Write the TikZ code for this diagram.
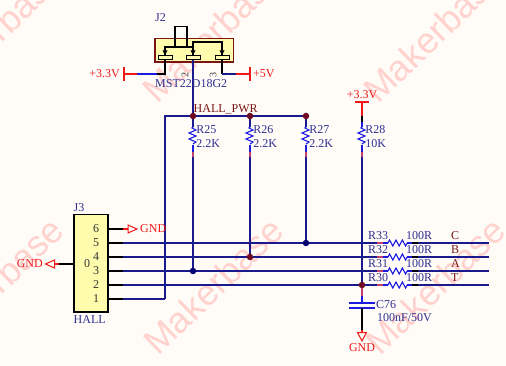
\documentclass[tikz,border=0pt]{standalone}
\usepackage{fontspec}
\setmainfont{Liberation Serif}
\newfontfamily\wmfont{Liberation Sans}
\definecolor{paper}{HTML}{FFFCF8}
\definecolor{wire}{HTML}{1A1A8C}
\definecolor{refcol}{HTML}{2F2F8F}
\definecolor{netcol}{HTML}{7A1515}
\definecolor{pwr}{HTML}{F01818}
\definecolor{dotred}{HTML}{6E0A22}
\definecolor{dotblue}{HTML}{000070}
\definecolor{partfill}{HTML}{FFFCAE}
\definecolor{pinblue}{HTML}{1A1AE0}
\definecolor{pinpink}{HTML}{C04070}
\definecolor{wmark}{HTML}{FFD2CE}
\tikzset{
 txt/.style={font=\fontsize{12}{12}\selectfont,inner sep=0pt,anchor=west},
 reflabel/.style={txt,text=refcol},
 netlabel/.style={txt,text=netcol},
 pwrlabel/.style={txt,text=pwr},
 pinnum/.style={txt,anchor=center,text=black!80},
 wmtext/.style={font=\wmfont\fontsize{36}{36}\selectfont,text=wmark,inner sep=0pt,anchor=base west,rotate=44},
 net/.style={draw=wire,line width=1.4pt},
 black wire/.style={draw=black,line width=1.4pt},
 pwr wire/.style={draw=pwr,line width=1.4pt},
 pwr thin/.style={draw=pwr,line width=1pt},
 blue stub/.style={draw=pinblue,line width=1.4pt},
 zig/.style={draw=pinblue,line width=1.1pt},
 pink stub/.style={draw=pinpink,line width=1.4pt},
 jdot/.style={circle,inner sep=0pt,minimum size=6.5pt},
 dred/.style={jdot,fill=dotred},
 dblue/.style={jdot,fill=dotblue},
 partbox/.style={draw=netcol,fill=partfill,line width=1.1pt},
 pinrect/.style={draw=black,fill=partfill,line width=1pt},
}
\newcommand{\vzig}[2]{\draw[zig,line join=miter] (#1,#2) -- ++(-1,1) -- ++(4,2) -- ++(-7,3) -- ++(7,3) -- ++(-7,3) -- ++(7,3) -- ++(-3,2);}
\newcommand{\hzig}[2]{\draw[zig] (#1,#2) -- ++(1.6,-3) -- ++(3.2,6) -- ++(3.2,-6) -- ++(3.2,6) -- ++(3.2,-6) -- ++(3.2,6) -- ++(1.6,-3);}
\begin{document}
\begin{tikzpicture}[x=1pt,y=-1pt]
\useasboundingbox (0,0) rectangle (506,366);
\fill[paper] (0,0) rectangle (506,366);
\begin{scope}
\clip (0,0) rectangle (506,366);
\node[wmtext] (wm1) at (-62,105) {Makerbase};
\node[wmtext] (wm2) at (157,105) {Makerbase};
\node[wmtext] (wm3) at (378,105) {Makerbase};
\node[wmtext] (wm4) at (-62,357) {Makerbase};
\node[wmtext] (wm5) at (158,357) {Makerbase};
\node[wmtext] (wm6) at (380,357) {Makerbase};
\end{scope}
% coordinates
\foreach \n/\y in {1/299,2/285,3/271,4/257,5/243,6/229}{
  \coordinate (p\n) at (108,\y);
  \coordinate (q\n) at (123,\y);
}
\coordinate (hl) at (165,116);
\coordinate (hl1) at (165,299);
\coordinate (j1) at (193,116);
\coordinate (j2) at (250,116);
\coordinate (j3) at (306,116);
\coordinate (j4) at (193,271);
\coordinate (j5) at (250,257);
\coordinate (j6) at (306,243);
\coordinate (j7) at (362,285);
% J2
\filldraw[partbox] (155,38.5) rectangle (233.5,62);
\coordinate (pa) at (165,55);
\coordinate (pb) at (193,55);
\coordinate (pc) at (222,55);
\draw[black wire] (pa) -- (165,47) -- (193,47) -- (pb);
\draw[black wire] (175,47) -- (175,26.5) -- (187,26.5) -- (187,47);
\draw[black wire] (193,47) -- (193,42) -- (222,42) -- (pc);
\foreach \x in {165,193,222}{
  \fill[black] (\x,55) -- (\x-2.5,50.5) -- (\x+2.5,50.5) -- cycle;
  \filldraw[pinrect] (\x-7,55.5) rectangle (\x+7,60);
}
% J2 leads
\draw[black wire] (165,60) -- (165,74) -- (157,74);
\draw[net,draw=pinblue] (157,74) -- (137,74);
\draw[pwr wire] (137,74) -- (124,74);
\draw[pwr wire] (124,67) -- (124,81);
\draw[net] (193,60) -- (j1);
\draw[black wire] (222,60) -- (222,74);
\draw[net] (222,74) -- (236,74);
\draw[pwr wire] (236,74) -- (250,74);
\draw[pwr wire] (250,67) -- (250,81);
\node[pwrlabel,anchor=east] (v33a) at (120,74) {+3.3V};
\node[pwrlabel] (v5) at (253,74) {+5V};
\node[reflabel,anchor=center] (j2ref) at (160.5,18) {J2};
\node[reflabel] (j2val) at (155,84) {MST22D18G2};
\node[pinnum,rotate=90,font=\fontsize{10}{10}\selectfont] (n2) at (185,75) {2};
\node[pinnum,rotate=90,font=\fontsize{10}{10}\selectfont] (n3) at (213,75) {3};
% HALL_PWR
\draw[net] (hl1) -- (hl) -- (j3);
\draw[net] (q1) -- (hl1);
\node[netlabel] (hp) at (193.5,109) {HALL\_PWR};
% vertical resistors
\foreach \x/\r/\v/\e in {193/R25/2.2K/271,250/R26/2.2K/257,306/R27/2.2K/243,362/R28/10K/285}{
  \vzig{\x}{127}
  \draw[blue stub] (\x,145) -- (\x,152);
  \draw[pink stub] (\x,152) -- (\x,157);
  \draw[net] (\x,157) -- (\x,\e);
  \node[reflabel] at (\x+3.2,130) {\r};
  \node[reflabel] at (\x+3.2,144) {\v};
}
\draw[net] (j1) -- (193,127);
\draw[net] (j2) -- (250,127);
\draw[net] (j3) -- (306,127);
% R28 supply
\draw[pwr wire] (362,102) -- (362,116);
\draw[black wire] (362,116) -- (362,122);
\draw[blue stub] (362,122) -- (362,127);
\draw[pwr wire] (355,102) -- (369,102);
\node[pwrlabel,anchor=center] (v33b) at (362,94.5) {+3.3V};
% horizontal rows
\foreach \n/\y/\r/\s in {5/243/R33/C,4/257/R32/B,3/271/R31/A,2/285/R30/T}{
  \draw[net] (q\n) -- (377,\y);
  \draw[pink stub] (377,\y) -- (383,\y);
  \draw[blue stub] (383,\y) -- (388,\y);
  \hzig{388}{\y}
  \draw[blue stub] (407,\y) -- (412,\y);
  \draw[black wire] (412,\y) -- (418,\y);
  \draw[net] (418,\y) -- (489,\y);
  \node[reflabel] at (368,\y-7) {\r};
  \node[reflabel] at (406,\y-7) {100R};
  \node[netlabel] at (451,\y-7) {\s};
}
% capacitor
\coordinate (cT) at (362,303);
\coordinate (cB) at (362,308);
\draw[pink stub] (j7) -- (362,296);
\draw[blue stub] (362,296) -- (cT);
\draw[blue stub] (349,303) -- (375,303);
\draw[blue stub] (349,308) -- (375,308);
\draw[black wire] (cB) -- (362,330);
\draw[pwr wire] (362,330) -- (362,332.5);
\draw[pwr thin,fill=none] (357.5,332.5) -- (366.5,332.5) -- (362,341) -- cycle;
\node[reflabel] (c76) at (376,305) {C76};
\node[reflabel] (c76v) at (377,318) {100nF/50V};
\node[pwrlabel,anchor=center] (gnd3) at (362,348) {GND};
% J3
\filldraw[draw=black,fill=partfill,line width=1.1pt] (74,214.5) rectangle (108,312);
\foreach \n in {1,2,3,4,5,6}{
  \draw[black wire] (p\n) -- (q\n);
  \node[pinnum] at ([xshift=-12pt,yshift=0.5pt]p\n) {\n};
}
\node[pinnum] (n0) at (87,264) {0};
\node[reflabel,anchor=center] (j3ref) at (79,207.5) {J3};
\node[reflabel] (j3val) at (73.5,319.5) {HALL};
% GND on pin 6
\draw[pwr wire] (q6) -- (128,229);
\draw[pwr thin] (128,225) -- (137,229) -- (128,233) -- cycle;
\node[pwrlabel] (g6) at (140,228.5) {GND};
% GND on pin 0
\coordinate (b0) at (74,264);
\draw[black wire] (b0) -- (59,264);
\draw[pwr wire] (59,264) -- (54.5,264);
\draw[pwr thin] (54.5,260) -- (45.5,264) -- (54.5,268) -- cycle;
\node[pwrlabel,anchor=east] (g0) at (43,263.5) {GND};
% junctions
\node[dred] at (j1) {};
\node[dred] at (j2) {};
\node[dred] at (j3) {};
\node[dblue] at (j4) {};
\node[dred] at (j5) {};
\node[dblue] at (j6) {};
\node[dred] at (j7) {};
\end{tikzpicture}
\end{document}
